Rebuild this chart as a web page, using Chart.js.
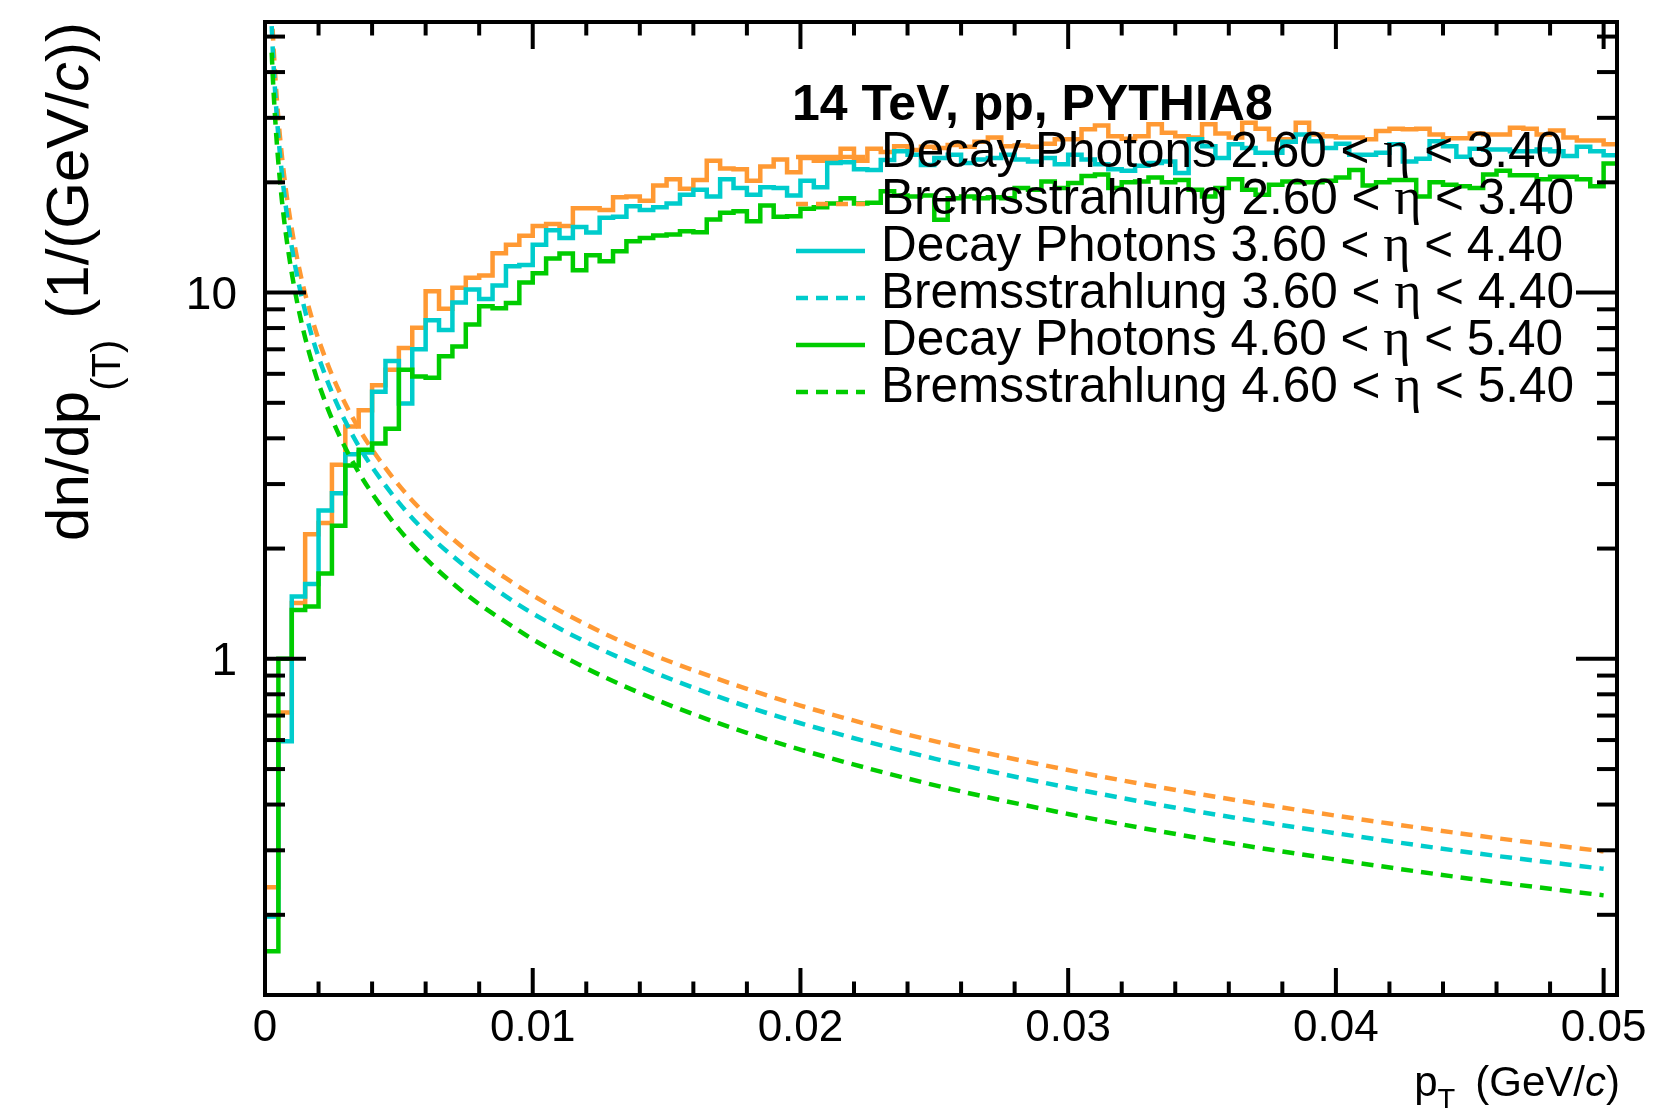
<!DOCTYPE html>
<html>
<head>
<meta charset="utf-8">
<title>Decay photons and bremsstrahlung, 14 TeV pp</title>
<script src="https://cdn.jsdelivr.net/npm/chart.js@4.4.1/dist/chart.umd.min.js"></script>
<style>
  html, body { margin: 0; padding: 0; background: #fff; }
  #wrap { width: 1654px; height: 1108px; }
</style>
</head>
<body>
<div id="wrap"><canvas id="chart" width="1654" height="1108"></canvas></div>
<script>
// histogram binning in pT (GeV/c)
var BIN_WIDTH = 0.0005;

// decay photon histograms, dn/dpT per bin
var decay_26_34 = [0.238, 0.713, 1.42, 2.19, 2.35, 3.39, 4.31, 4.77, 5.58, 6.16,
  7.06, 8.01, 10.08, 9.04, 10.3, 10.97, 11.13, 12.8, 13.5, 14.3,
  15.2, 15.4, 15.2, 17.0, 17.0, 16.8, 18.2, 18.3, 17.8, 19.6,
  20.4, 19.2, 20.3, 22.9, 21.8, 21.7, 20.2, 22.1, 23.1, 21.3,
  23.3, 22.9, 22.9, 24.7, 22.9, 24.7, 24.2, 25.1, 24.5, 25.0,
  24.8, 25.3, 25.0, 25.8, 26.5, 25.1, 25.2, 25.0, 25.5, 26.2,
  26.2, 27.9, 28.6, 26.7, 26.3, 26.7, 28.8, 27.3, 26.7, 26.5,
  28.8, 27.2, 26.5, 29.1, 28.0, 26.2, 26.2, 29.1, 27.0, 26.7,
  26.5, 26.5, 26.2, 27.6, 28.0, 27.9, 28.0, 27.0, 26.4, 26.4,
  27.2, 27.0, 27.0, 28.2, 28.0, 27.0, 27.7, 26.5, 26.0, 26.0,
  25.4];
var decay_36_44 = [0.198, 0.596, 1.48, 1.60, 2.54, 2.83, 3.62, 3.66, 5.36, 6.5,
  4.98, 7.0, 8.4, 7.9, 9.4, 10.2, 9.6, 10.45, 11.8, 11.9,
  13.5, 14.8, 14.1, 15.1, 14.6, 16.0, 16.1, 17.2, 16.8, 17.1,
  17.5, 18.5, 19.1, 18.3, 20.4, 19.3, 18.5, 19.4, 19.3, 18.4,
  20.2, 19.4, 22.6, 22.7, 21.7, 21.6, 23.0, 24.3, 23.8, 22.3,
  23.3, 23.8, 22.6, 23.1, 23.3, 23.8, 23.1, 22.8, 23.3, 22.4,
  23.8, 23.1, 22.4, 21.7, 21.5, 22.2, 22.6, 22.8, 21.2, 26.2,
  25.1, 23.3, 25.4, 24.8, 24.1, 24.1, 25.8, 27.0, 25.9, 24.8,
  25.5, 23.8, 23.8, 24.1, 25.4, 22.8, 23.2, 25.9, 25.1, 23.5,
  24.7, 24.6, 24.6, 24.3, 24.3, 24.6, 24.3, 23.6, 25.0, 24.3,
  23.7];
var decay_46_54 = [0.159, 1.0, 1.36, 1.39, 1.71, 2.31, 3.37, 3.72, 3.87, 4.25,
  6.16, 5.9, 5.85, 6.7, 7.13, 8.18, 9.18, 9.06, 9.37, 10.65,
  11.3, 12.39, 12.78, 11.51, 12.65, 12.18, 12.97, 13.81, 14.1, 14.31,
  14.4, 14.71, 14.62, 15.83, 16.51, 16.68, 15.66, 17.28, 16.1, 16.17,
  16.93, 17.1, 17.5, 18.1, 17.5, 17.6, 18.9, 18.4, 18.3, 18.4,
  15.8, 18.1, 18.3, 18.1, 18.2, 18.1, 19.3, 19.1, 20.1, 19.3,
  19.9, 20.8, 21.0, 19.3, 20.0, 20.1, 20.6, 20.0, 20.3, 19.1,
  18.3, 19.3, 20.4, 19.1, 18.5, 19.7, 20.1, 20.0, 20.0, 20.2,
  20.6, 21.6, 19.6, 20.0, 20.3, 20.3, 18.3, 20.0, 19.7, 19.5,
  19.3, 21.0, 21.5, 20.9, 20.9, 20.4, 20.7, 20.7, 20.4, 19.5,
  22.5];

// bremsstrahlung curves, sampled at these pT values
var brems_pt = [0.00025, 0.0003, 0.0004, 0.0005, 0.0006, 0.0007, 0.0008, 0.001, 0.0012, 0.0014,
  0.0016, 0.0018, 0.002, 0.0025, 0.003, 0.0035, 0.004, 0.005, 0.006, 0.007,
  0.008, 0.009, 0.01, 0.012, 0.014, 0.016, 0.018, 0.02, 0.025, 0.03,
  0.035, 0.04, 0.045, 0.05];
var brems_26_34 = [59.6, 49.7, 37.3, 29.8, 24.8, 21.3, 18.6, 14.9, 12.4, 10.6,
  9.31, 8.28, 7.45, 5.96, 4.97, 4.26, 3.73, 2.98, 2.48, 2.13,
  1.86, 1.66, 1.49, 1.24, 1.06, 0.931, 0.828, 0.745, 0.596, 0.497,
  0.426, 0.373, 0.331, 0.298];
var brems_36_44 = [53.4, 44.5, 33.4, 26.7, 22.2, 19.1, 16.7, 13.3, 11.1, 9.53,
  8.34, 7.41, 6.67, 5.34, 4.45, 3.81, 3.34, 2.67, 2.22, 1.91,
  1.67, 1.48, 1.33, 1.11, 0.953, 0.834, 0.741, 0.667, 0.534, 0.445,
  0.381, 0.334, 0.296, 0.267];
var brems_46_54 = [45.2, 37.7, 28.3, 22.6, 18.8, 16.1, 14.1, 11.3, 9.42, 8.07,
  7.06, 6.28, 5.65, 4.52, 3.77, 3.23, 2.83, 2.26, 1.88, 1.61,
  1.41, 1.26, 1.13, 0.942, 0.807, 0.706, 0.628, 0.565, 0.452, 0.377,
  0.323, 0.283, 0.251, 0.226];

var legendTitle = '14 TeV, pp, PYTHIA8';
var legendLabels = [
  'Decay Photons 2.60 < η < 3.40',
  'Bremsstrahlung 2.60 < η < 3.40',
  'Decay Photons 3.60 < η < 4.40',
  'Bremsstrahlung 3.60 < η < 4.40',
  'Decay Photons 4.60 < η < 5.40',
  'Bremsstrahlung 4.60 < η < 5.40'
];

// axis ticks
var xMajorTicks = [0, 0.01, 0.02, 0.03, 0.04, 0.05];
var xMajorLabels = ['0', '0.01', '0.02', '0.03', '0.04', '0.05'];
var xMinorTicks = [0.002, 0.004, 0.006, 0.008, 0.012, 0.014, 0.016, 0.018,
  0.022, 0.024, 0.026, 0.028, 0.032, 0.034, 0.036, 0.038,
  0.042, 0.044, 0.046, 0.048];
var yMajorTicks = [1, 10];
var yMajorLabels = ['1', '10'];
var yMinorTicks = [0.2, 0.3, 0.4, 0.5, 0.6, 0.7, 0.8, 0.9,
  2, 3, 4, 5, 6, 7, 8, 9, 20, 30, 40, 50];

var ORANGE = '#ff9933';
var CYAN = '#00cccc';
var GREEN = '#00cc00';
var DASH = [12, 8];
var SANS = '"Liberation Sans", Arial, Helvetica, sans-serif';
var SERIF = '"Liberation Serif", "Times New Roman", serif';

// bin values -> step points (left edges + closing right edge)
function histPoints(values) {
  var pts = values.map(function(v, i) {
    return {x: i * BIN_WIDTH, y: v};
  });
  pts.push({x: values.length * BIN_WIDTH, y: values[values.length - 1]});
  return pts;
}

function curvePoints(xs, ys) {
  return xs.map(function(x, i) {
    return {x: x, y: ys[i]};
  });
}

function histSet(values, color) {
  return {data: histPoints(values), borderColor: color, borderWidth: 4.5,
    stepped: 'before', fill: false, pointRadius: 0, borderJoinStyle: 'miter'};
}

function curveSet(values, color) {
  return {data: curvePoints(brems_pt, values), borderColor: color, borderWidth: 4.5,
    borderDash: DASH, cubicInterpolationMode: 'monotone', fill: false, pointRadius: 0};
}

function strokeLine(ctx, x1, y1, x2, y2) {
  ctx.beginPath();
  ctx.moveTo(x1, y1);
  ctx.lineTo(x2, y2);
  ctx.stroke();
}

// draws a list of text pieces one after another
function drawPieces(ctx, pieces, x, y) {
  pieces.forEach(function(p) {
    ctx.font = p.font;
    ctx.fillText(p.text, x, y + (p.dy || 0));
    x += ctx.measureText(p.text).width + (p.gap || 0);
  });
  return x;
}

function piecesWidth(ctx, pieces) {
  var w = 0;
  pieces.forEach(function(p) {
    ctx.font = p.font;
    w += ctx.measureText(p.text).width + (p.gap || 0);
  });
  return w;
}

// frame with inward ticks, labels, titles and legend, ROOT style
var rootStyle = {
  id: 'rootStyle',
  afterDatasetsDraw: function(chart) {
    var ctx = chart.ctx;
    var a = chart.chartArea;
    var xs = chart.scales.x;
    var ys = chart.scales.y;

    ctx.save();
    ctx.strokeStyle = '#000';
    ctx.fillStyle = '#000';
    ctx.lineWidth = 4;
    ctx.lineCap = 'butt';
    ctx.setLineDash([]);

    xMajorTicks.forEach(function(v) {
      var px = xs.getPixelForValue(v);
      strokeLine(ctx, px, a.bottom, px, a.bottom - 27);
      strokeLine(ctx, px, a.top, px, a.top + 27);
    });
    xMinorTicks.forEach(function(v) {
      var px = xs.getPixelForValue(v);
      strokeLine(ctx, px, a.bottom, px, a.bottom - 13.5);
      strokeLine(ctx, px, a.top, px, a.top + 13.5);
    });
    yMajorTicks.forEach(function(v) {
      var py = ys.getPixelForValue(v);
      strokeLine(ctx, a.left, py, a.left + 41, py);
      strokeLine(ctx, a.right, py, a.right - 41, py);
    });
    yMinorTicks.forEach(function(v) {
      var py = ys.getPixelForValue(v);
      strokeLine(ctx, a.left, py, a.left + 20, py);
      strokeLine(ctx, a.right, py, a.right - 20, py);
    });
    ctx.strokeRect(a.left, a.top, a.right - a.left, a.bottom - a.top);

    // tick labels
    ctx.textBaseline = 'alphabetic';
    ctx.font = '44px ' + SANS;
    ctx.textAlign = 'center';
    xMajorTicks.forEach(function(v, i) {
      ctx.fillText(xMajorLabels[i], xs.getPixelForValue(v), a.bottom + 46);
    });
    ctx.font = '46px ' + SANS;
    ctx.textAlign = 'right';
    yMajorTicks.forEach(function(v, i) {
      ctx.fillText(yMajorLabels[i], a.left - 28, ys.getPixelForValue(v) + 16);
    });

    // x axis title, right aligned on the frame
    ctx.textAlign = 'left';
    var xTitle = [
      {text: 'p', font: '42px ' + SANS},
      {text: 'T', font: '29px ' + SANS, dy: 13, gap: 20},
      {text: '(GeV/', font: '42px ' + SANS},
      {text: 'c', font: 'italic 42px ' + SANS},
      {text: ')', font: '42px ' + SANS}
    ];
    drawPieces(ctx, xTitle, a.right + 3 - piecesWidth(ctx, xTitle), 1096);

    // y axis title, rotated, ending at the top of the frame
    var yTitle = [
      {text: 'dn/dp', font: '60px ' + SANS},
      {text: '(T)', font: '40px ' + SANS, dy: 32, gap: 21},
      {text: '(1/(GeV/', font: '60px ' + SANS},
      {text: 'c', font: 'italic 60px ' + SANS},
      {text: '))', font: '60px ' + SANS}
    ];
    ctx.save();
    ctx.translate(88, a.top);
    ctx.rotate(-Math.PI / 2);
    drawPieces(ctx, yTitle, -piecesWidth(ctx, yTitle), 0);
    ctx.restore();

    // legend
    ctx.font = 'bold 50px ' + SANS;
    ctx.fillText(legendTitle, 792, 120);
    var colors = [ORANGE, ORANGE, CYAN, CYAN, GREEN, GREEN];
    legendLabels.forEach(function(label, i) {
      var base = 167 + i * 47;
      ctx.strokeStyle = colors[i];
      ctx.lineWidth = 4.5;
      ctx.setLineDash(i % 2 === 1 ? DASH : []);
      strokeLine(ctx, 796, base - 10, 865, base - 10);
      ctx.setLineDash([]);
      var parts = label.split('η');
      drawPieces(ctx, [
        {text: parts[0], font: '49.5px ' + SANS},
        {text: 'η', font: '52px ' + SERIF},
        {text: parts[1], font: '49.5px ' + SANS}
      ], 881, base);
    });
    ctx.restore();
  }
};

new Chart(document.getElementById('chart'), {
  type: 'line',
  data: {
    // first dataset is painted last
    datasets: [
      curveSet(brems_46_54, GREEN),
      histSet(decay_46_54, GREEN),
      curveSet(brems_36_44, CYAN),
      histSet(decay_36_44, CYAN),
      curveSet(brems_26_34, ORANGE),
      histSet(decay_26_34, ORANGE)
    ]
  },
  options: {
    responsive: false,
    animation: false,
    devicePixelRatio: 1,
    layout: {padding: {left: 265, right: 37, top: 22, bottom: 113}},
    plugins: {legend: {display: false}, tooltip: {enabled: false}},
    scales: {
      x: {type: 'linear', min: 0, max: 0.0505, display: false},
      y: {type: 'logarithmic', min: 0.1208, max: 54.8, display: false}
    }
  },
  plugins: [rootStyle]
});
</script>
</body>
</html>
